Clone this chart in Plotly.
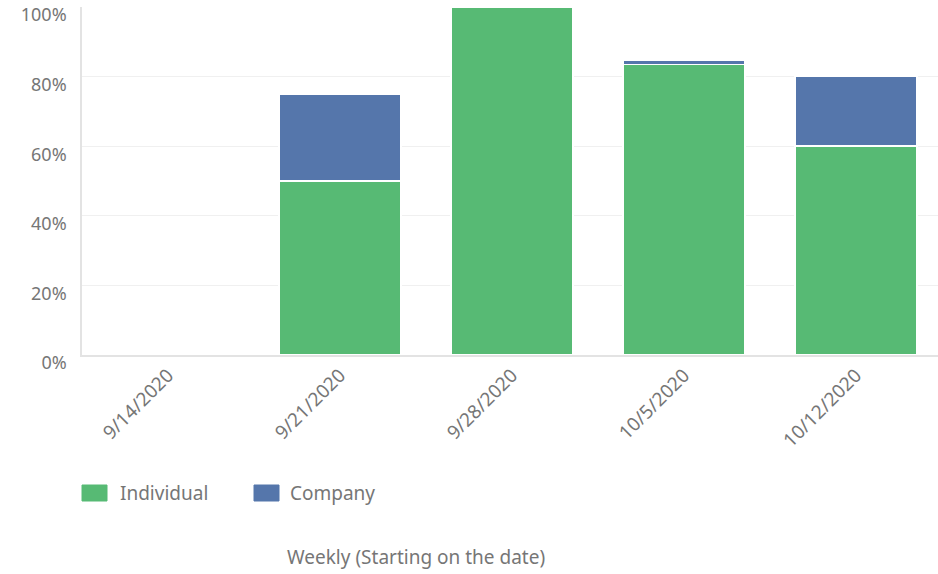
import plotly.graph_objects as go

weeks = ["9/14/2020", "9/21/2020", "9/28/2020", "10/5/2020", "10/12/2020"]
individual = [0, 50, 100, 83.5, 60]
company = [0, 25, 0, 1.2, 20]
y_ticks = [0, 20, 40, 60, 80, 100]
y_tick_labels = ["0%", "20%", "40%", "60%", "80%", "100%"]
series_names = ["Individual", "Company"]

GREEN = "#57BA74"
BLUE = "#5576AB"
TEXT = "#767676"
FONT = "Noto Sans"

W, H = 938, 574
L, T, B = 82, 7, 219
PW, PH = W - L, H - T - B

fig = go.Figure()
for name, vals, col in [(series_names[0], individual, GREEN), (series_names[1], company, BLUE)]:
    fig.add_trace(go.Bar(
        name=name, x=weeks, y=vals,
        marker=dict(color=col, line=dict(color="white", width=1.5)),
        width=0.71, showlegend=False,
    ))

# legend swatches and labels (pixel positions converted to paper units)
def px(x):
    return (x - L) / PW

def py(y):
    return (H - B - y) / PH

shapes = []
annotations = []
legend_items = [(series_names[0], GREEN, 82, 118), (series_names[1], BLUE, 254, 288)]
for name, col, sx, tx in legend_items:
    shapes.append(dict(
        type="rect", xref="paper", yref="paper",
        x0=px(sx), x1=px(sx + 25), y0=py(501), y1=py(485),
        fillcolor=col, line=dict(color=col, width=1),
    ))
    annotations.append(dict(
        text=name, xref="paper", yref="paper", x=px(tx), y=py(493),
        xanchor="left", yanchor="middle", showarrow=False,
        font=dict(size=19, color=TEXT, family=FONT),
    ))

annotations.append(dict(
    text="Weekly (Starting on the date)", xref="paper", yref="paper",
    x=px(416), y=py(557), xanchor="center", yanchor="middle",
    showarrow=False, font=dict(size=19, color=TEXT, family=FONT),
))

fig.update_layout(
    width=W, height=H,
    barmode="stack",
    plot_bgcolor="white", paper_bgcolor="white",
    margin=dict(l=L, r=0, t=T, b=B),
    font=dict(family=FONT, color=TEXT, size=17),
    showlegend=False,
    xaxis=dict(
        type="category", range=[-0.5, 4.477],
        tickangle=-45, tickfont=dict(size=19, color=TEXT),
        showgrid=False, showline=True, linecolor="#e3e3e3", linewidth=1.5,
        ticks="",
    ),
    yaxis=dict(
        range=[0, 100], tickvals=y_ticks, ticktext=y_tick_labels,
        tickfont=dict(size=18, color=TEXT),
        showgrid=True, gridcolor="#f0f0f0", gridwidth=1,
        showline=True, linecolor="#e3e3e3", linewidth=1.5,
        zeroline=False, ticks="", ticklabelstandoff=10, ticklabelshift=8,
    ),
    shapes=shapes,
    annotations=annotations,
)

fig.write_html("out.html")
